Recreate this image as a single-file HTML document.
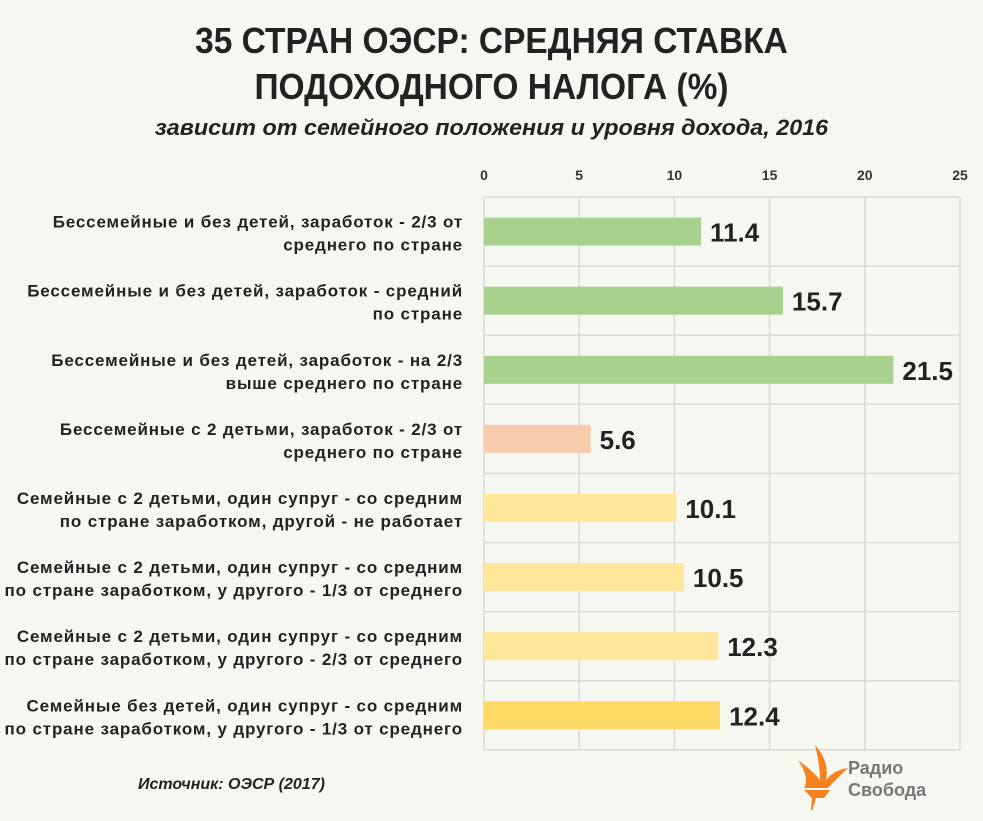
<!DOCTYPE html>
<html><head><meta charset="utf-8"><style>
body{margin:0;width:983px;height:821px;background:#f7f7f2;font-family:"Liberation Sans",sans-serif;overflow:hidden;position:relative;color:#222}
.t{position:absolute;left:0;width:983px;text-align:center;font-weight:bold}
</style></head><body>
<div class="t" style="top:18px;font-size:36px;line-height:46px;color:#222;transform:scaleX(0.93)">35 СТРАН ОЭСР: СРЕДНЯЯ СТАВКА<br>ПОДОХОДНОГО НАЛОГА (%)</div>
<div class="t" style="top:115px;font-size:22px;font-style:italic;transform:scaleX(1.06)">зависит от семейного положения и уровня дохода, 2016</div>
<svg id="c" width="983" height="821" style="position:absolute;left:0;top:0"></svg>
<div style="position:absolute;left:138px;top:776px;font-size:16px;font-weight:bold;font-style:italic">Источник: ОЭСР (2017)</div>
<svg width="160" height="70" style="position:absolute;left:790px;top:740px">
<path d="M8 20 Q22 30 30 40 Q30 25 25 5 Q40 22 36 40 Q44 30 58 28 Q45 40 38 48 L14 48 Q20 38 8 20Z" fill="#f58220"/>
<path d="M14 50 L40 50 L34 58 L26 58 L20 78 L22 58 Z" fill="#f58220"/>
<text x="58" y="34" font-size="18" font-weight="bold" fill="#777" font-family="Liberation Sans,sans-serif">Радио</text>
<text x="58" y="56" font-size="18" font-weight="bold" fill="#777" font-family="Liberation Sans,sans-serif">Свобода</text>
</svg>
<script>
const categories=[["Бессемейные и без детей, заработок  - 2/3 от","среднего по стране"],["Бессемейные и без детей, заработок  - средний","по стране"],["Бессемейные и без детей, заработок  - на 2/3","выше среднего по стране"],["Бессемейные с 2 детьми, заработок  - 2/3 от","среднего по стране"],["Семейные с 2 детьми, один супруг - со средним","по стране заработком,  другой - не работает"],["Семейные с 2 детьми, один супруг - со средним","по стране заработком,  у другого - 1/3 от среднего"],["Семейные с 2 детьми, один супруг - со средним","по стране заработком,  у другого - 2/3 от среднего"],["Семейные без детей, один супруг - со средним","по стране заработком,  у другого - 1/3 от среднего"]];
const values=[11.4,15.7,21.5,5.6,10.1,10.5,12.3,12.4];
const colors=["#a9d18e","#a9d18e","#a9d18e","#f8cbad","#ffe699","#ffe699","#ffe699","#ffd966"];
const ticks=[0,5,10,15,20,25];
const svg=document.getElementById('c');const NS='http://www.w3.org/2000/svg';
const x0=484,x1=960,y0=197,rh=69.1;
const xs=v=>x0+(v/25)*(x1-x0);
function mk(t,a,p){const e=document.createElementNS(NS,t);for(const k in a)e.setAttribute(k,a[k]);(p||svg).appendChild(e);return e;}
for(const t of ticks){const g=mk('line',{x1:xs(t),x2:xs(t),y1:y0,y2:y0+rh*8,stroke:'#d9d9d9','stroke-width':1.5});


const l=mk('text',{x:xs(t),y:180,'text-anchor':'middle','font-size':14,'font-weight':'bold',fill:'#333','font-family':'Liberation Sans,sans-serif'});l.textContent=t;

}
for(let i=0;i<=8;i++){const g=mk('line',{x1:x0,x2:x1,y1:y0+rh*i,y2:y0+rh*i,stroke:'#d9d9d9','stroke-width':1.5});

}
values.forEach((v,i)=>{const cy=y0+rh*i+rh/2;
const b=mk('rect',{x:x0,y:cy-14,width:xs(v)-x0,height:28,fill:colors[i]});


const t=mk('text',{x:xs(v)+9,y:cy+10,'font-size':26,'font-weight':'bold',fill:'#222','font-family':'Liberation Sans,sans-serif'});t.textContent=v.toFixed(1);


categories[i].forEach((s,j)=>{const c=mk('text',{x:463,y:cy-4+j*23,'text-anchor':'end','font-size':17,'font-weight':'bold',fill:'#222','font-family':'Liberation Sans,sans-serif','letter-spacing':'0.85'});c.textContent=s;

});});
</script>
</body></html>
